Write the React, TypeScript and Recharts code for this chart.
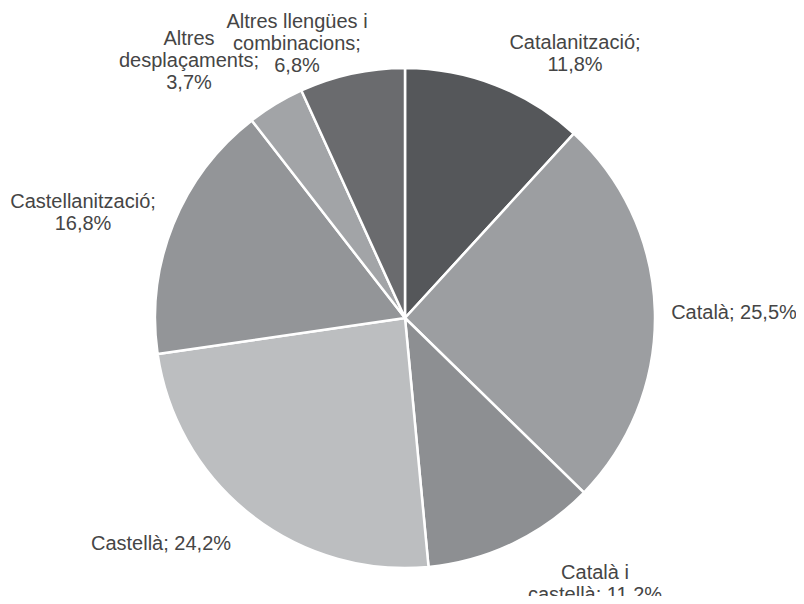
import { PieChart, Pie, Cell } from 'recharts';

// dades del gràfic (percentatges)
const CATEGORIES = [
  'Catalanització',
  'Català',
  'Català i castellà',
  'Castellà',
  'Castellanització',
  'Altres desplaçaments',
  'Altres llengües i combinacions',
];
const SHARES = [11.8, 25.5, 11.2, 24.2, 16.8, 3.7, 6.8];

const COLORS = ['#55575a', '#9c9ea1', '#8d8f92', '#bcbec0', '#939598', '#a2a4a7', '#6a6b6e'];

// paraules per línia de cada etiqueta
const WRAP = [[1, 1], [2], [2, 2], [2], [1, 1], [1, 1, 1], [3, 1, 1]];
// posició del centre de cada etiqueta respecte del centre del pastís
const LABEL_OFFSETS = [
  [170, -265],
  [329, -6],
  [190, 265],
  [-244, 225],
  [-322, -106],
  [-216, -258],
  [-108, -275],
];

const FONT_SIZE = 20;
const LINE_H = 22;

const data = CATEGORIES.map((name, i) => ({ name, value: SHARES[i] }));

const fmt = (v: number) => v.toFixed(1).replace('.', ',') + '%';

function renderLabel(props: any) {
  const { cx, cy, index, name, value } = props;
  const words = `${name}; ${fmt(value)}`.split(' ');
  const lines: string[] = [];
  let k = 0;
  for (const n of WRAP[index]) {
    lines.push(words.slice(k, k + n).join(' '));
    k += n;
  }
  const [dx, dy] = LABEL_OFFSETS[index];
  const x = cx + dx;
  const top = cy + dy - ((lines.length - 1) * LINE_H) / 2;
  return (
    <text
      key={`lbl-${index}`}
      textAnchor="middle"
      fill="#454545"
      fontSize={FONT_SIZE}
      fontFamily="'Liberation Sans', Arial, sans-serif"
    >
      {lines.map((l, i) => (
        <tspan key={i} x={x} y={top + i * LINE_H + FONT_SIZE * 0.35}>
          {l}
        </tspan>
      ))}
    </text>
  );
}

export default function App() {
  return (
    <div style={{ margin: -8, width: 804, height: 604, background: '#fff' }}>
      <PieChart width={804} height={604} margin={{ top: 0, right: 0, bottom: 0, left: 0 }}>
        <Pie
          data={data}
          dataKey="value"
          nameKey="name"
          cx={405}
          cy={318}
          outerRadius={250}
          startAngle={90}
          endAngle={-270}
          stroke="#ffffff"
          strokeWidth={2.5}
          label={renderLabel}
          labelLine={false}
          isAnimationActive={false}
        >
          {data.map((entry, index) => (
            <Cell key={`cell-${index}`} fill={COLORS[index % COLORS.length]} />
          ))}
        </Pie>
      </PieChart>
    </div>
  );
}
